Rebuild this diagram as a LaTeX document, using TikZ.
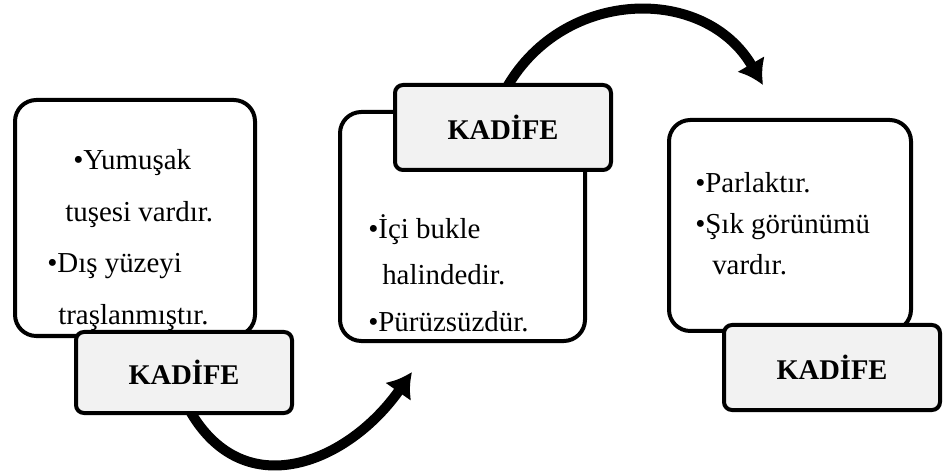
\documentclass[tikz,border=0pt]{standalone}
\usepackage{fontspec}
\setmainfont{Liberation Serif}
\usepackage{xcolor}
\usetikzlibrary{arrows.meta}
\usetikzlibrary{backgrounds, calc}
\definecolor{labelgray}{RGB}{242, 242, 242}

\begin{document}
\begin{tikzpicture}[x=0.75pt,y=-0.75pt,
 panel/.style={draw=black,line width=3pt,rounded corners=16pt,fill=white,inner sep=0pt},
 tag/.style={draw=black,line width=3pt,rounded corners=6pt,fill=labelgray,minimum width=162pt,minimum height=63.75pt,font=\fontsize{21.4}{25}\selectfont\bfseries},
 items/.style={align=left,inner sep=0pt},
 flow/.style={line width=7.5pt,-{Latex[length=18pt,width=24pt]}}]
\useasboundingbox (0,0) rectangle (947,474);

%first box
\node[panel,minimum width=180pt,minimum height=177pt] (box1) at (135,218) {};
\node[items,anchor=west,font=\fontsize{21.7}{38.8}\selectfont] (list1) at (47,240)
 {\hspace*{19.5pt}•Yumuşak\\ \hspace*{13.5pt}tuşesi vardır.\\ •Dış yüzeyi\\ \hspace*{8.25pt}traşlanmıştır.};
\node[tag,minimum height=60.75pt] (tag1) at (184,372.5) {KADİFE};

%second box
\node[panel,minimum width=183.75pt,minimum height=171.75pt] (box2) at (462.5,226.5) {};
\node[items,anchor=west,font=\fontsize{21.7}{35}\selectfont] (list2) at (368,273)
 {•İçi bukle\\ \hspace*{10.5pt}halindedir.\\ •Pürüzsüzdür.};
\node[tag] (tag2) at (503,127.5) {KADİFE};

%third box
\node[panel,minimum width=181.5pt,minimum height=158.25pt] (box3) at (790,225.5) {};
\node[items,anchor=west,font=\fontsize{21.7}{31}\selectfont] (list3) at (695,223.5)
 {•Parlaktır.\\ •Şık görünümü\\ \hspace*{12.75pt}vardır.};
\node[tag] (tag3) at (832,367.5) {KADİFE};

%arrows
\coordinate (tip1) at (412,372);
\coordinate (tip2) at (763,85);
\begin{scope}[on background layer]
\draw[flow] ([xshift=4.5pt,yshift=3pt]tag1.south) to[out=-60,in=-125,looseness=1.25] (tip1);
\draw[flow] ([xshift=3pt,yshift=-3pt]tag2.north) to[out=60,in=120,looseness=1.15] (tip2);
\end{scope}

\end{tikzpicture}
\end{document}
